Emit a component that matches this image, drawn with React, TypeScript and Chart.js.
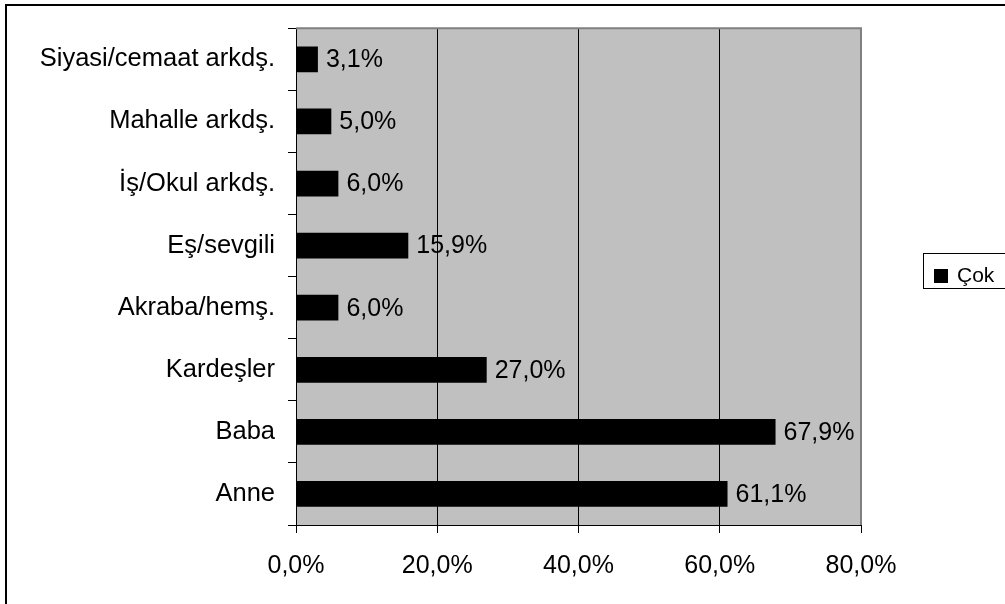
import React, { useEffect, useRef } from "react";
import { Chart, registerables } from "chart.js";

Chart.register(...registerables);

const categories = [
  "Siyasi/cemaat arkdş.",
  "Mahalle arkdş.",
  "İş/Okul arkdş.",
  "Eş/sevgili",
  "Akraba/hemş.",
  "Kardeşler",
  "Baba",
  "Anne",
];
const values = [3.1, 5.0, 6.0, 15.9, 6.0, 27.0, 67.9, 61.1];
const seriesName = "Çok";
const xTicks = [0, 20, 40, 60, 80];

const FONT = '"Liberation Sans", Arial, sans-serif';
const fmt = (v: number) => v.toFixed(1).replace(".", ",") + "%";

const framePlugin = {
  id: "framePlugin",
  beforeDraw(chart: any) {
    const { ctx, chartArea } = chart;
    ctx.save();
    ctx.fillStyle = "#ffffff";
    ctx.fillRect(0, 0, chart.width, chart.height);
    ctx.fillStyle = "#C0C0C0";
    ctx.fillRect(chartArea.left, chartArea.top, chartArea.right - chartArea.left, chartArea.bottom - chartArea.top);
    ctx.restore();
  },
  afterDatasetsDraw(chart: any) {
    const { ctx, chartArea } = chart;
    ctx.save();
    ctx.strokeStyle = "#808080";
    ctx.lineWidth = 2;
    ctx.beginPath();
    ctx.moveTo(chartArea.left, chartArea.top);
    ctx.lineTo(chartArea.right, chartArea.top);
    ctx.lineTo(chartArea.right, chartArea.bottom);
    ctx.stroke();
    const meta = chart.getDatasetMeta(0);
    ctx.fillStyle = "#000000";
    ctx.font = `25px ${FONT}`;
    ctx.textAlign = "left";
    ctx.textBaseline = "middle";
    meta.data.forEach((bar: any, i: number) => {
      const v = chart.data.datasets[0].data[i] as number;
      ctx.fillText(fmt(v), bar.x + 8, bar.y + 1);
    });
    ctx.restore();
  },
  afterDraw(chart: any) {
    const { ctx } = chart;
    ctx.save();
    ctx.strokeStyle = "#000000";
    ctx.lineWidth = 2;
    ctx.strokeRect(6, 5, 1200, 800);
    ctx.fillStyle = "#ffffff";
    ctx.fillRect(923.5, 253.5, 200, 35);
    ctx.lineWidth = 1;
    ctx.strokeRect(923.5, 253.5, 200, 35);
    ctx.fillStyle = "#000000";
    ctx.fillRect(934, 269, 14, 14);
    ctx.font = `21px ${FONT}`;
    ctx.textAlign = "left";
    ctx.textBaseline = "middle";
    ctx.fillText(seriesName, 957, 276);
    ctx.restore();
  },
};

export default function App() {
  const ref = useRef<HTMLCanvasElement>(null);
  useEffect(() => {
    if (!ref.current) return;
    const chart = new Chart(ref.current, {
      type: "bar",
      data: {
        labels: categories,
        datasets: [
          {
            label: seriesName,
            data: values,
            backgroundColor: "#000000",
            borderWidth: 0,
            barPercentage: 0.415,
            categoryPercentage: 1,
          },
        ],
      },
      options: {
        indexAxis: "y",
        animation: false,
        responsive: false,
        maintainAspectRatio: false,
        devicePixelRatio: 1,
        layout: { padding: { top: 24, right: 144, left: 0, bottom: 0 } },
        plugins: { legend: { display: false }, tooltip: { enabled: false }, title: { display: false } },
        scales: {
          x: {
            min: 0,
            max: 80,
            afterBuildTicks: (scale: any) => {
              scale.ticks = xTicks.map((v) => ({ value: v }));
            },
            afterFit: (scale: any) => {
              scale.height = 79;
            },
            ticks: {
              color: "#000000",
              font: { family: FONT, size: 25 },
              padding: 18,
              maxRotation: 0,
              callback: (v: any) => fmt(Number(v)),
            },
            grid: { color: "#000000", lineWidth: 1, tickLength: 8, drawOnChartArea: true },
            border: { color: "#000000", width: 1 },
          },
          y: {
            afterFit: (scale: any) => {
              scale.width = 296;
            },
            ticks: {
              color: "#000000",
              font: { family: FONT, size: 25.5 },
              padding: 13,
            },
            grid: { color: "#000000", lineWidth: 1, tickLength: 8, drawOnChartArea: false, offset: true },
            border: { color: "#000000", width: 1 },
          },
        },
      },
      plugins: [framePlugin],
    });
    return () => chart.destroy();
  }, []);
  return (
    <div style={{ position: "fixed", left: 0, top: 0, width: 1005, height: 604, background: "#fff" }}>
      <canvas ref={ref} width={1005} height={604} style={{ width: 1005, height: 604, display: "block" }} />
    </div>
  );
}
